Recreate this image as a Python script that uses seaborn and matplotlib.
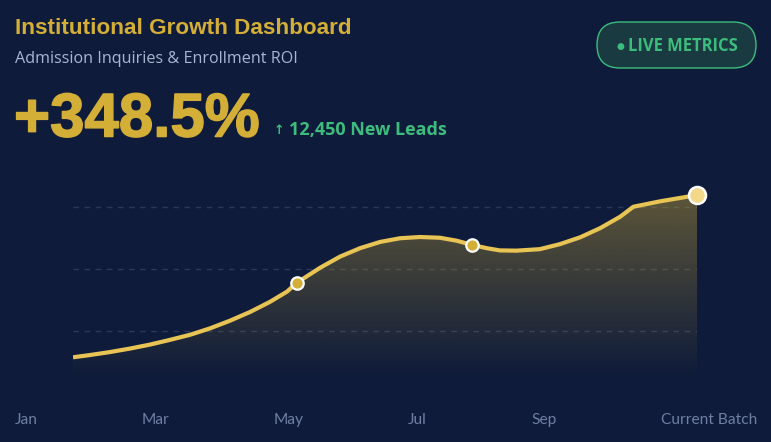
import numpy as np
import pandas as pd
import matplotlib
matplotlib.use('Agg')
import matplotlib.pyplot as plt
import matplotlib.patheffects as pe
from matplotlib.patches import FancyBboxPatch
import seaborn as sns

# =============================================================================
# Data
# =============================================================================
progress = [0, 2.7, 5.9, 9.1, 12.3, 15.5, 18.8, 22.0, 25.2, 28.4, 31.6, 34.3,
            35.9, 39.6, 42.8, 46.0, 49.2, 52.4, 55.6, 58.8, 61.5, 64.0, 66.3,
            68.4, 71.1, 74.8, 78.0, 81.3, 84.5, 87.7, 89.8, 94.1, 100]
inquiries = [14.4, 15.3, 16.5, 17.9, 19.5, 21.4, 23.5, 26.1, 29.2, 32.7, 36.8,
             40.9, 44.5, 50.5, 55.0, 58.4, 60.9, 62.4, 62.9, 62.6, 61.4, 59.7,
             58.4, 57.5, 57.4, 58.0, 60.0, 62.8, 66.5, 71.1, 75.1, 77.3, 79.8]

marker_x = [35.9, 64.0]
marker_y = [44.5, 59.7]
last_x = [100]
last_y = [79.8]

month_labels = ['Jan', 'Mar', 'May', 'Jul', 'Sep', 'Current Batch']
grid_levels = [25, 50, 75]

title = 'Institutional Growth Dashboard'
subtitle = 'Admission Inquiries & Enrollment ROI'
headline = '+348.5%'
leads_arrow = '\u2191'
leads = '12,450 New Leads'
badge_dot = '\u25cf'
badge = 'LIVE METRICS'

# colours
BG = '#0e1b3a'
GOLD = '#d4af37'
LINE = '#e8c455'
GREEN = '#3dbd7d'
SUB = '#a9b5d3'
AXIS_TXT = '#6f7ea2'

df = pd.DataFrame({'progress': progress, 'inquiries': inquiries})

sns.set_theme(style='white')
plt.rcParams['font.family'] = ['Liberation Sans', 'DejaVu Sans']

W, H = 771, 442
fig = plt.figure(figsize=(W / 100, H / 100), dpi=100, facecolor=BG)

# overlay in pixel units for the header pieces
pax = fig.add_axes([0, 0, 1, 1])
pax.set_xlim(0, W)
pax.set_ylim(H, 0)
pax.axis('off')
pax.patch.set_alpha(0)

# chart area: x 73..697 px, y value 0..100 -> 393..145 px
ax = fig.add_axes([73 / W, 1 - 393 / H, (697 - 73) / W, (393 - 145) / H])
ax.patch.set_alpha(0)
ax.set_xlim(0, 100)
ax.set_ylim(0, 100)
for s in ax.spines.values():
    s.set_visible(False)
ax.set_xticks([])
ax.set_yticks([])

# dashed grid lines
for g in grid_levels:
    ax.axhline(g, color='#2b3858', lw=1, ls=(0, (4, 4)), zorder=1)

# gradient fill under the curve
poly = ax.fill_between(df['progress'], df['inquiries'], 6, color='none', lw=0)
top = max(inquiries)
rgb = matplotlib.colors.to_rgb(GOLD)
grad = np.zeros((256, 2, 4))
grad[:, :, :3] = rgb
grad[:, :, 3] = np.linspace(0.40, 0.0, 256)[:, None]
im = ax.imshow(grad, extent=[0, 100, 6, top], origin='upper', aspect='auto', zorder=2)
im.set_clip_path(poly.get_paths()[0], transform=ax.transData)

# main line
sns.lineplot(data=df, x='progress', y='inquiries', ax=ax, color=LINE, lw=3.0,
             zorder=3, solid_capstyle='butt', solid_joinstyle='round')
ax.set_xlabel('')
ax.set_ylabel('')

# markers
sns.scatterplot(x=marker_x, y=marker_y, ax=ax, s=80, color=GOLD,
                edgecolor='white', linewidth=1.6, zorder=4, clip_on=False)
sns.scatterplot(x=last_x, y=last_y, ax=ax, s=150, color='#f4d88a',
                edgecolor='white', linewidth=1.8, zorder=4, clip_on=False)

# =============================================================================
# Header text
# =============================================================================
pax.text(15, 29, title, color=GOLD, fontsize=16.2, weight='bold',
         va='center', ha='left')
pax.text(15, 59, subtitle, color=SUB, fontsize=11.6, va='center', ha='left',
         family=['Open Sans', 'DejaVu Sans'])
pax.text(14, 121, headline, color=GOLD, fontsize=44.5, weight='bold',
         va='center', ha='left',
         path_effects=[pe.withStroke(linewidth=1.1, foreground=GOLD)])
pax.text(279, 131, leads_arrow, color=GREEN, fontsize=9, weight='bold',
         va='center', ha='center', family=['DejaVu Sans'])
pax.text(289, 130, leads, color=GREEN, fontsize=13, weight='bold',
         va='center', ha='left', family=['Open Sans', 'DejaVu Sans'])

# badge
bx0, by0, bx1, by1 = 597, 22, 756, 68
pax.add_patch(FancyBboxPatch((bx0, by0), bx1 - bx0, by1 - by0,
                             boxstyle='round,pad=0,rounding_size=23',
                             facecolor='#183a40', edgecolor=GREEN, lw=1))
pax.text(620, 46, badge_dot, color=GREEN, fontsize=6.5, va='center',
         ha='center', family=['DejaVu Sans'])
pax.text(628, 46, badge, color=GREEN, fontsize=11.9, weight='bold',
         va='center', ha='left', family=['Open Sans', 'DejaVu Sans'])

# =============================================================================
# Month labels spread edge to edge (space-between)
# =============================================================================
renderer = fig.canvas.get_renderer()
txts = [pax.text(0, 420, m, color=AXIS_TXT, fontsize=11.2, va='center',
                 ha='left', family=['Lato', 'DejaVu Sans']) for m in month_labels]
widths = [t.get_window_extent(renderer).width for t in txts]
left, right = 15, 757
gap = (right - left - sum(widths)) / (len(txts) - 1)
xpos = left
for t, w in zip(txts, widths):
    t.set_x(xpos)
    xpos += w + gap

fig.savefig('out.png', dpi=100, facecolor=BG)
